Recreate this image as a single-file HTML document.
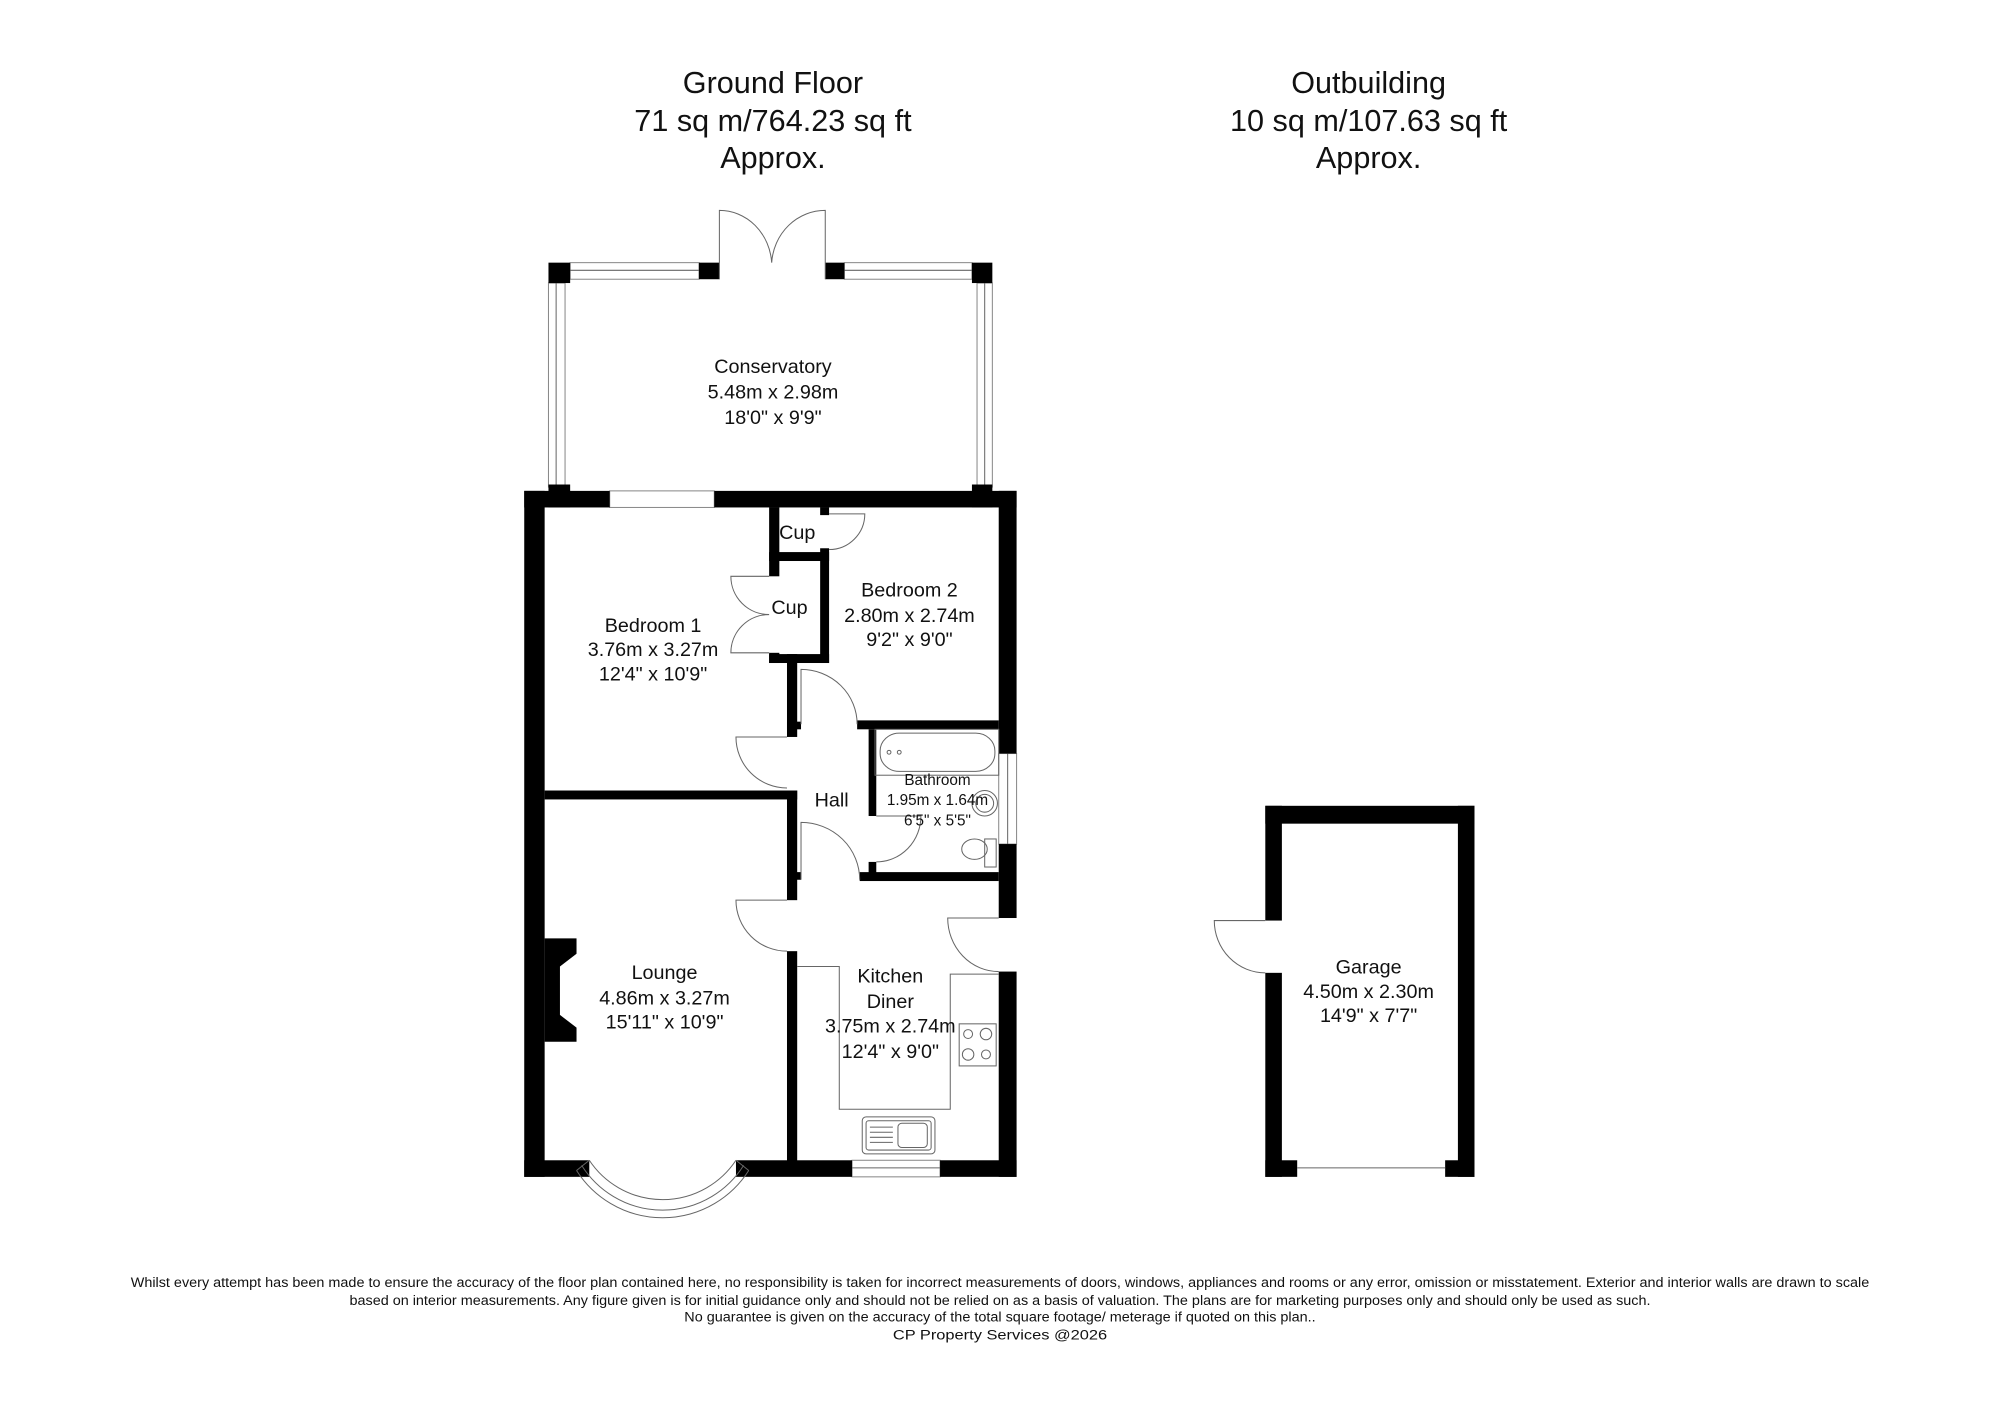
<!DOCTYPE html>
<html><head><meta charset="utf-8"><style>
html,body{margin:0;padding:0;background:#fff;}
svg{display:block;}
text{font-family:"Liberation Sans",sans-serif;fill:#111;text-anchor:middle;dominant-baseline:central;}
.d{fill:none;stroke:#666;stroke-width:0.8;}
.w{fill:#fff;stroke:#888;stroke-width:0.8;}
.n{font-family:"Liberation Sans Narrow","Liberation Sans",sans-serif;font-size:10.5px;}
</style></head><body>
<svg width="2000" height="1414" viewBox="0 0 1568 1109" preserveAspectRatio="none" xmlns="http://www.w3.org/2000/svg">
<rect width="1568" height="1109" fill="#fff"/>
<!-- titles -->
<g font-size="24">
<text x="606" y="65">Ground Floor</text>
<text x="606" y="95">71 sq m/764.23 sq ft</text>
<text x="606" y="124">Approx.</text>
<text x="1073" y="65">Outbuilding</text>
<text x="1073" y="95">10 sq m/107.63 sq ft</text>
<text x="1073" y="124">Approx.</text>
</g>

<!-- conservatory -->
<rect class="w" x="447" y="206" width="101" height="13"/><line class="d" x1="447" y1="212" x2="548" y2="212"/>
<rect class="w" x="662" y="206" width="100" height="13"/><line class="d" x1="662" y1="212" x2="762" y2="212"/>
<rect class="w" x="430" y="222" width="13" height="160"/><line class="d" x1="436" y1="222" x2="436" y2="382"/>
<rect class="w" x="766" y="222" width="12" height="160"/><line class="d" x1="772" y1="222" x2="772" y2="382"/>
<g fill="#000">
<rect x="430" y="206" width="17" height="16"/>
<rect x="548" y="206" width="16" height="13"/>
<rect x="647" y="206" width="15" height="13"/>
<rect x="762" y="206" width="16" height="16"/>
<rect x="430" y="380" width="17" height="18"/>
<rect x="762" y="380" width="16" height="18"/>
</g>
<path class="d" d="M564,219 V165 A41,44 0 0 1 605,206 M647,219 V165 A42,44 0 0 0 605,206"/>

<!-- windows on house -->
<rect class="w" x="478" y="385" width="82" height="13"/>
<rect class="w" x="783" y="591" width="14" height="71"/><line class="d" x1="790" y1="591" x2="790" y2="662"/>
<rect class="w" x="668" y="910" width="69" height="13"/><line class="d" x1="668" y1="916" x2="737" y2="916"/>

<!-- walls -->
<g fill="#000">
<rect x="411" y="385" width="16" height="538"/>
<rect x="411" y="385" width="67" height="13"/>
<rect x="560" y="385" width="237" height="13"/>
<rect x="783" y="385" width="14" height="206"/>
<rect x="783" y="662" width="14" height="58"/>
<rect x="783" y="762" width="14" height="161"/>
<rect x="411" y="910" width="51" height="13"/>
<rect x="577" y="910" width="91" height="13"/>
<rect x="737" y="910" width="60" height="13"/>
<rect x="427" y="620" width="198" height="7"/>
<rect x="603" y="398" width="8" height="54"/>
<rect x="603" y="512" width="8" height="8"/>
<rect x="603" y="433" width="47" height="7"/>
<rect x="603" y="513" width="47" height="7"/>
<rect x="643" y="398" width="7" height="6"/>
<rect x="643" y="430" width="7" height="90"/>
<rect x="617" y="513" width="8" height="65"/>
<rect x="617" y="620" width="8" height="86"/>
<rect x="617" y="566" width="11" height="6"/>
<rect x="617" y="684" width="11" height="6"/>
<rect x="617" y="746" width="8" height="170"/>
<rect x="672" y="565" width="111" height="7"/>
<rect x="674" y="684" width="109" height="7"/>
<rect x="681" y="572" width="6" height="68"/>
<rect x="681" y="676" width="6" height="10"/>
<path d="M427,736 H452 V748 L439,758 V796 L452,806 V817 H427 Z"/>
</g>

<!-- doors -->
<path class="d" d="M650,403 H678 A28,28 0 0 1 650,431"/>
<path class="d" d="M603,452 H573 A30,30 0 0 0 603,482 M603,512 H573 A30,30 0 0 1 603,482"/>
<path class="d" d="M628,568 V525 A44,43 0 0 1 672,568"/>
<path class="d" d="M617,578 H577 A40,40 0 0 0 617,618"/>
<path class="d" d="M628,690 V645 A46,45 0 0 1 674,690"/>
<path class="d" d="M687,640 H722 A35,36 0 0 1 687,676"/>
<path class="d" d="M617,706 H577 A40,40 0 0 0 617,746"/>
<path class="d" d="M783,720 H743 A40,42 0 0 0 783,762"/>

<!-- bay window -->
<path class="d" d="M462,910 A69,69 0 0 0 577,910"/>
<path class="d" d="M456,914 A75,75 0 0 0 583,914"/>
<path class="d" d="M452,918 A80,80 0 0 0 587,918"/>
<path class="d" d="M452,918 L462,910 M587,918 L577,910"/>

<!-- bathroom fittings -->
<rect class="d" x="686" y="572" width="97" height="36"/>
<rect class="d" x="690" y="575" width="90" height="30" rx="15" ry="14"/>
<circle class="d" cx="697" cy="590" r="1.5"/><circle class="d" cx="705" cy="590" r="1.5"/>
<circle class="d" cx="772" cy="630" r="10"/><circle class="d" cx="772" cy="630" r="7"/>
<ellipse class="d" cx="764" cy="666" rx="10" ry="8"/>
<rect class="d" x="772" y="658" width="9" height="22"/>

<!-- kitchen -->
<path class="d" d="M625,758 H658 V870 H745 V764 H783"/>
<rect class="d" x="752" y="803" width="29" height="33"/>
<circle class="d" cx="759" cy="811" r="3.5"/><circle class="d" cx="773" cy="811" r="4.5"/>
<circle class="d" cx="759" cy="827" r="4.5"/><circle class="d" cx="773" cy="827" r="3.5"/>
<rect class="d" x="676" y="876" width="57" height="29" rx="3"/>
<rect class="d" x="679" y="879" width="51" height="23" rx="2"/>
<rect class="d" x="704" y="881" width="23" height="19" rx="3"/>
<g class="d"><line x1="682" y1="884" x2="700" y2="884"/><line x1="682" y1="888" x2="700" y2="888"/><line x1="682" y1="892" x2="700" y2="892"/><line x1="682" y1="896" x2="700" y2="896"/></g>

<!-- garage -->
<g fill="#000">
<rect x="992" y="632" width="164" height="14"/>
<rect x="992" y="632" width="13" height="90"/>
<rect x="992" y="763" width="13" height="160"/>
<rect x="1143" y="632" width="13" height="291"/>
<rect x="992" y="910" width="25" height="13"/>
<rect x="1133" y="910" width="23" height="13"/>
</g>
<line class="d" x1="1017" y1="916" x2="1133" y2="916"/>
<path class="d" d="M992,722 H952 A40,41 0 0 0 992,763"/>

<!-- room labels -->
<g font-size="15.5">
<text x="606" y="288">Conservatory</text><text x="606" y="308">5.48m x 2.98m</text><text x="606" y="328">18'0" x 9'9"</text>
<text x="512" y="491">Bedroom 1</text><text x="512" y="510">3.76m x 3.27m</text><text x="512" y="529">12'4" x 10'9"</text>
<text x="713" y="463">Bedroom 2</text><text x="713" y="483">2.80m x 2.74m</text><text x="713" y="502">9'2" x 9'0"</text>
<text x="625" y="418">Cup</text><text x="619" y="477">Cup</text>
<text x="652" y="628">Hall</text>
<text x="521" y="763">Lounge</text><text x="521" y="783">4.86m x 3.27m</text><text x="521" y="802">15'11" x 10'9"</text>
<text x="698" y="766">Kitchen</text><text x="698" y="786">Diner</text><text x="698" y="805">3.75m x 2.74m</text><text x="698" y="825">12'4" x 9'0"</text>
<text x="1073" y="759">Garage</text><text x="1073" y="778">4.50m x 2.30m</text><text x="1073" y="797">14'9" x 7'7"</text>
</g>
<g font-size="12">
<text x="735" y="612">Bathroom</text><text x="735" y="628">1.95m x 1.64m</text><text x="735" y="644">6'5" x 5'5"</text>
</g>

<!-- disclaimer -->
<text class="n" x="784" y="1006" textLength="1363" lengthAdjust="spacingAndGlyphs">Whilst every attempt has been made to ensure the accuracy of the floor plan contained here, no responsibility is taken for incorrect measurements of doors, windows, appliances and rooms or any error, omission or misstatement. Exterior and interior walls are drawn to scale</text>
<text class="n" x="784" y="1020" textLength="1020" lengthAdjust="spacingAndGlyphs">based on interior measurements. Any figure given is for initial guidance only and should not be relied on as a basis of valuation. The plans are for marketing purposes only and should only be used as such.</text>
<text class="n" x="784" y="1033" textLength="495" lengthAdjust="spacingAndGlyphs">No guarantee is given on the accuracy of the total square footage/ meterage if quoted on this plan..</text>
<text class="n" x="784" y="1047" font-size="12" textLength="168" lengthAdjust="spacingAndGlyphs">CP Property Services @2026</text>
</svg>
</body></html>
